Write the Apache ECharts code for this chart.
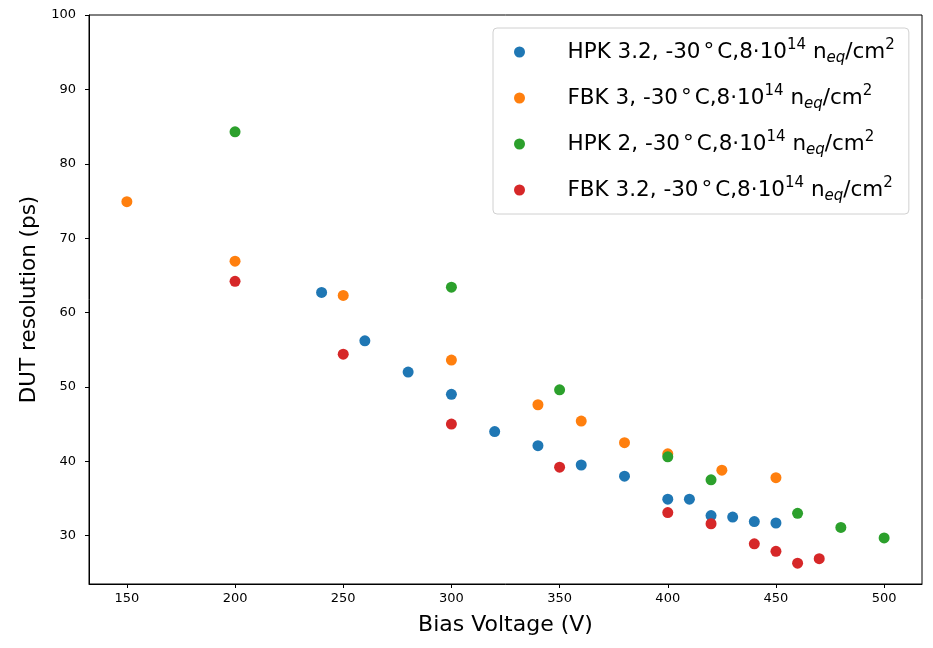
<!DOCTYPE html>
<html>
<head>
<meta charset="utf-8">
<script src="https://cdn.jsdelivr.net/npm/echarts@6/dist/echarts.min.js"></script>
<style>html,body{margin:0;padding:0;background:#fff}#c{width:933px;height:648px}</style>
</head>
<body>
<div id="c"></div>
<script>
const seriesNames = ['HPK 3.2', 'FBK 3', 'HPK 2', 'FBK 3.2'];
const hpk32V = [240, 260, 280, 300, 320, 340, 360, 380, 400, 410, 420, 430, 440, 450];
const hpk32R = [62.7, 56.2, 52.0, 49.0, 44.0, 42.1, 39.5, 38.0, 34.9, 34.9, 32.7, 32.5, 31.9, 31.7];
const fbk3V = [150, 200, 250, 300, 340, 360, 380, 400, 425, 450];
const fbk3R = [74.9, 66.9, 62.3, 53.6, 47.6, 45.4, 42.5, 41.0, 38.8, 37.8];
const hpk2V = [200, 300, 350, 400, 420, 460, 480, 500];
const hpk2R = [84.3, 63.4, 49.6, 40.6, 37.5, 33.0, 31.1, 29.7];
const fbk32V = [200, 250, 300, 350, 400, 420, 440, 450, 460, 470];
const fbk32R = [64.2, 54.4, 45.0, 39.2, 33.1, 31.6, 28.9, 27.9, 26.3, 26.9];
const xTicks = [150, 200, 250, 300, 350, 400, 450, 500];
const yTicks = [30, 40, 50, 60, 70, 80, 90, 100];
const colors = ['#1f77b4', '#ff7f0e', '#2ca02c', '#d62728'];

const allV = [hpk32V, fbk3V, hpk2V, fbk32V];
const allR = [hpk32R, fbk3R, hpk2R, fbk32R];

const FONT = 'DejaVu Sans';
const chart = echarts.init(document.getElementById('c'), null, {renderer: 'canvas'});
chart.setOption({
  animation: false,
  grid: {left: 89, right: 11, top: 15, bottom: 64, show: true, borderColor: '#000', borderWidth: 1, backgroundColor: 'transparent'},
  xAxis: {
    type: 'value', min: 132.5, max: 517.5,
    name: 'Bias Voltage (V)', nameLocation: 'middle', nameGap: 30,
    nameTextStyle: {fontFamily: FONT, fontSize: 22, color: '#000'},
    axisLine: {show: true, onZero: false, lineStyle: {color: '#000', width: 1}},
    axisTick: {show: true, length: 4, lineStyle: {color: '#000'}, customValues: xTicks},
    axisLabel: {fontFamily: FONT, fontSize: 13, color: '#000', margin: 8, customValues: xTicks},
    splitLine: {show: false}
  },
  yAxis: {
    type: 'value', min: 23.5, max: 100,
    name: 'DUT resolution (ps)', nameLocation: 'middle', nameGap: 46,
    nameTextStyle: {fontFamily: FONT, fontSize: 21.5, color: '#000'},
    axisLine: {show: true, onZero: false, lineStyle: {color: '#000', width: 1}},
    axisTick: {show: true, length: 4, lineStyle: {color: '#000'}, customValues: yTicks},
    axisLabel: {fontFamily: FONT, fontSize: 13, color: '#000', margin: 13, customValues: yTicks},
    splitLine: {show: false}
  },
  legend: {
    left: 493, top: 28, orient: 'vertical',
    padding: [10, 14, 10, 21],
    itemGap: 18, itemWidth: 22, itemHeight: 11,
    backgroundColor: '#fff', borderColor: '#d0d0d0', borderWidth: 1, borderRadius: 4,
    icon: 'circle',
    formatter: function (name) {
      return '{g|}' + name + ', -30{deg|°}C,8·10{sup|14} n{sub|eq}/cm{sup|2}';
    },
    textStyle: {
      fontFamily: FONT, fontSize: 21.5, color: '#000', lineHeight: 28,
      rich: {
        g: {width: 32, lineHeight: 28},
        deg: {fontFamily: FONT, fontSize: 21.5, lineHeight: 28, padding: [0, 3, 0, 3], color: '#000'},
        sup: {fontFamily: FONT, fontSize: 15, lineHeight: 14, verticalAlign: 'top', color: '#000'},
        sub: {fontFamily: FONT, fontSize: 15, lineHeight: 14, verticalAlign: 'bottom', fontStyle: 'italic', color: '#000'}
      }
    },
    data: seriesNames
  },
  series: seriesNames.map((n, i) => ({
    name: n, type: 'scatter', symbol: 'circle', symbolSize: 11,
    itemStyle: {color: colors[i], opacity: 1},
    data: allV[i].map((v, j) => [v, allR[i][j]])
  }))
});
</script>
</body>
</html>
